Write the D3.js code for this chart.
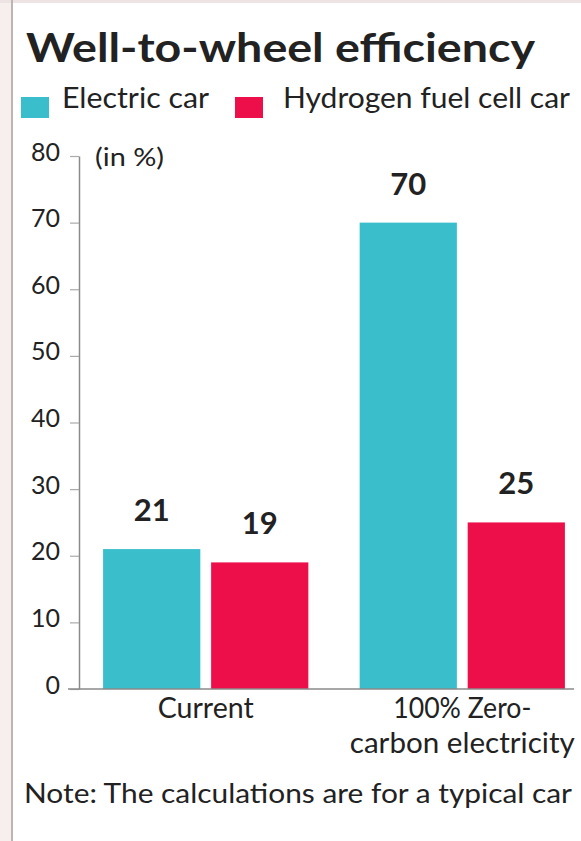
<!DOCTYPE html>
<html>
<head>
<meta charset="utf-8">
<script src="https://cdn.jsdelivr.net/npm/d3@7"></script>
<style>
  html, body { margin: 0; padding: 0; background: #ffffff; }
  svg { display: block; }
  text { font-family: Lato, "Noto Sans", sans-serif; fill: #222; }
</style>
</head>
<body>
<svg id="chart" width="581" height="841"></svg>
<script>
// ---- data ----
const categories = ["Current", "100% Zero-carbon electricity"];
const categoryLines = [["Current"], ["100% Zero-", "carbon electricity"]];
const seriesNames = ["Electric car", "Hydrogen fuel cell car"];
const electricValues = [21, 70];
const hydrogenValues = [19, 25];
const yTickValues = [0, 10, 20, 30, 40, 50, 60, 70, 80];
const colors = ["#3bbecb", "#ec0f4a"];
const titleText = "Well-to-wheel efficiency";
const unitText = "(in %)";
const noteText = "Note: The calculations are for a typical car";

const rows = categories.map((c, i) => ({
  category: c,
  lines: categoryLines[i],
  values: [
    { series: seriesNames[0], value: electricValues[i] },
    { series: seriesNames[1], value: hydrogenValues[i] }
  ]
}));

const svg = d3.select("#chart");

// frame
svg.append("rect").attr("x", 0).attr("y", 0).attr("width", 11).attr("height", 841).attr("fill", "#f7eeee");
svg.append("rect").attr("x", 0).attr("y", 0).attr("width", 581).attr("height", 3).attr("fill", "#ede3e3");
svg.append("line").attr("x1", 12).attr("x2", 12).attr("y1", 0).attr("y2", 841)
  .attr("stroke", "#bdb4b4").attr("stroke-width", 2);

function fit(sel, w) {
  sel.attr("textLength", w).attr("lengthAdjust", "spacingAndGlyphs");
}

// title
svg.append("text").attr("x", 26).attr("y", 62)
  .attr("font-size", 41).attr("font-weight", 700)
  .text(titleText).call(fit, 509);

// legend
const legendPos = [{ sx: 21, tx: 62, tw: 147 }, { sx: 235, tx: 283, tw: 287 }];
const legend = svg.append("g").selectAll("g").data(seriesNames).join("g");
legend.append("rect")
  .attr("x", (d, i) => legendPos[i].sx).attr("y", 97)
  .attr("width", 28).attr("height", 21)
  .attr("fill", (d, i) => colors[i]);
legend.append("text")
  .attr("x", (d, i) => legendPos[i].tx).attr("y", 108)
  .attr("font-size", 28)
  .text(d => d)
  .each(function(d, i) { d3.select(this).call(fit, legendPos[i].tw); });

// scales
const y = d3.scaleLinear().domain([0, 80]).range([689, 156]);
const x0 = d3.scaleBand().domain(categories).range([80, 588]).paddingInner(0.2).paddingOuter(0.09);
const x1 = d3.scaleBand().domain(seriesNames).range([0, x0.bandwidth()]).paddingInner(0.1);

// y axis
const yAxis = d3.axisLeft(y).tickValues(yTickValues).tickSize(9).tickSizeOuter(0).tickPadding(10);
const gy = svg.append("g").attr("transform", "translate(79,0)").call(yAxis);
gy.attr("font-size", null).attr("font-family", null);
gy.select(".domain").attr("stroke", "#8a8a8a").attr("stroke-width", 1.5);
gy.selectAll(".tick line").attr("stroke", "#aaaaaa").attr("stroke-width", 1.2);
gy.selectAll(".tick text")
  .style("font-size", "25px").attr("fill", "#222")
  .attr("dy", "0.32em").attr("y", -4);

svg.append("text").attr("x", 95).attr("y", 166).style("font-size", "25px")
  .text(unitText).call(fit, 69);

// bars
const groups = svg.append("g").selectAll("g").data(rows).join("g")
  .attr("transform", d => `translate(${x0(d.category)},0)`);
groups.selectAll("rect").data(d => d.values).join("rect")
  .attr("x", d => x1(d.series))
  .attr("y", d => y(d.value))
  .attr("width", x1.bandwidth())
  .attr("height", d => y(0) - y(d.value))
  .attr("fill", (d, i) => colors[i]);
groups.selectAll("text.val").data(d => d.values).join("text")
  .attr("class", "val")
  .attr("x", d => x1(d.series) + x1.bandwidth() / 2)
  .attr("y", d => y(d.value) - 28)
  .attr("text-anchor", "middle")
  .attr("font-size", 31).attr("font-weight", 700)
  .text(d => d.value);

// baseline
svg.append("line").attr("x1", 68).attr("x2", 574).attr("y1", y(0)).attr("y2", y(0))
  .attr("stroke", "#8a8a8a").attr("stroke-width", 1.5);

// category labels
const catWidths = [[96], [138, 225]];
svg.append("g").selectAll("g").data(rows).join("g")
  .each(function(d, i) {
    const g = d3.select(this);
    d.lines.forEach((ln, j) => {
      g.append("text")
        .attr("x", x0(d.category) + x0.bandwidth() / 2)
        .attr("y", 718 + j * 35)
        .attr("text-anchor", "middle")
        .attr("font-size", 28)
        .text(ln)
        .call(fit, catWidths[i][j]);
    });
  });

// note
svg.append("text").attr("x", 24).attr("y", 803).attr("font-size", 27)
  .text(noteText).call(fit, 548);
</script>
</body>
</html>
